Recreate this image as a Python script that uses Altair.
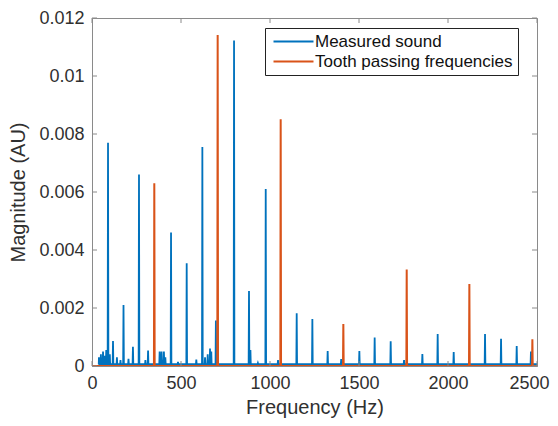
import altair as alt
import pandas as pd

# ---- data ----
blue_freq = [39, 50, 62, 72, 80, 90, 100, 118, 140, 160, 177, 205, 230, 264, 300, 315,
             380, 391, 404, 412, 444, 483, 532, 586, 620, 635, 650, 663, 670, 696, 798,
             882, 890, 932, 976, 1045, 1150, 1238, 1324, 1400, 1502, 1588, 1678, 1753,
             1856, 1942, 2032, 2208, 2298, 2386, 2466]
blue_mag = [0.0003, 0.0004, 0.0005, 0.00035, 0.00055, 0.0077, 0.0004, 0.00086, 0.0003, 0.0002,
            0.0021, 0.00025, 0.00066, 0.0066, 0.0002, 0.00053,
            0.0005, 0.0005, 0.0005, 0.0003, 0.0046, 0.00014, 0.00354, 0.00022, 0.00755, 0.0003,
            0.0004, 0.0006, 0.0005, 0.00157, 0.01122,
            0.00259, 0.00055, 0.0001, 0.0061, 0.0002, 0.00182, 0.00162, 0.00052, 0.00024,
            0.00052, 0.00098, 0.00085, 0.0002,
            0.00041, 0.0011, 0.00048, 0.0011, 0.00094, 0.00069, 0.0005]
blue_floor = 0.00006

orange_freq = [350, 706, 1060, 1412, 1768, 2120, 2474]
orange_mag = [0.0063, 0.01141, 0.00851, 0.00145, 0.00333, 0.00283, 0.00092]

x_ticks = [0, 500, 1000, 1500, 2000, 2500]
y_ticks = [0, 0.002, 0.004, 0.006, 0.008, 0.010, 0.012]

series_names = ["Measured sound", "Tooth passing frequencies"]
colors = ["#0072BD", "#D95319"]

HW = 2.0  # half width of a spike's base (Hz)


def spikes(freqs, mags, floor, start, end, name):
    rows = [(start, floor)]
    for f, m in sorted(zip(freqs, mags)):
        rows += [(f - HW, floor), (f, m), (f + HW, floor)]
    rows.append((end, floor))
    return pd.DataFrame({"freq": [r[0] for r in rows], "mag": [r[1] for r in rows], "series": name})


blue_df = spikes(blue_freq, blue_mag, blue_floor, 38, 2500, series_names[0])
orange_df = spikes(orange_freq, orange_mag, 0.0, 0, 2500, series_names[1])

W, H = 445, 348
AX = "#8a8a8a"
TXT = "#303030"
FONT = "Liberation Sans"

xscale = alt.Scale(domain=[0, 2500], nice=False, zero=False)
yscale = alt.Scale(domain=[0, 0.012], nice=False)
color = alt.Color(
    "series:N",
    scale=alt.Scale(domain=series_names, range=colors),
    legend=alt.Legend(
        title=None,
        orient="none",
        legendX=173,
        legendY=10,
        symbolType="M-4,0H4",
        symbolSize=100,
        symbolOffset=15,
        symbolStrokeWidth=2,
        labelOffset=13,
        labelLimit=400,
        labelFontSize=17,
        labelFont=FONT,
        labelColor="#111111",
        strokeColor="#222222",
        fillColor="white",
        padding=5,
        rowPadding=2,
    ),
)

x_enc = alt.X("freq:Q", scale=xscale,
              axis=alt.Axis(values=x_ticks, title="Frequency (Hz)", format="d", labelFlush=False,
                            labelOffset={"condition": {"test": "datum.value >= 2500", "value": -8},
                                         "value": 0}))
y_enc = alt.Y("mag:Q", scale=yscale,
              axis=alt.Axis(values=y_ticks, title="Magnitude (AU)", format="~g", labelFlush=False))

blue = alt.Chart(blue_df).mark_line(strokeWidth=1.8, clip=True).encode(
    x=x_enc, y=y_enc, color=color, order="freq:Q")
orange = alt.Chart(orange_df).mark_line(strokeWidth=2, clip=True).encode(
    x=x_enc, y=y_enc, color=color, order="freq:Q")

xt = pd.DataFrame({"freq": x_ticks})
yt = pd.DataFrame({"mag": y_ticks})
tick_bottom = alt.Chart(xt).mark_rule(color=AX, strokeWidth=1).encode(
    x=alt.X("freq:Q", scale=xscale), y=alt.value(H), y2=alt.value(H - 5))
tick_top = alt.Chart(xt).mark_rule(color=AX, strokeWidth=1).encode(
    x=alt.X("freq:Q", scale=xscale), y=alt.value(0), y2=alt.value(5))
tick_left = alt.Chart(yt).mark_rule(color=AX, strokeWidth=1).encode(
    y=alt.Y("mag:Q", scale=yscale), x=alt.value(0), x2=alt.value(5))
tick_right = alt.Chart(yt).mark_rule(color=AX, strokeWidth=1).encode(
    y=alt.Y("mag:Q", scale=yscale), x=alt.value(W - 5), x2=alt.value(W))

chart = alt.layer(blue, orange, tick_bottom, tick_top, tick_left, tick_right).properties(
    width=W,
    height=H,
    autosize=alt.AutoSizeParams(type="none"),
    padding={"left": 84, "top": 10, "right": 13, "bottom": 52},
).configure_view(
    stroke=AX, strokeWidth=1
).configure_axis(
    grid=False,
    ticks=False,
    domainColor=AX,
    domainWidth=1,
    labelFont=FONT,
    labelFontSize=18,
    labelColor=TXT,
    titleFont=FONT,
    titleFontSize=20,
    titleFontWeight="normal",
    titleColor=TXT,
).configure_axisX(
    labelPadding=8,
    titlePadding=5,
).configure_axisY(
    labelPadding=8,
    titlePadding=10,
)

chart.save("out.html", embed_options={"renderer": "svg", "actions": False})
